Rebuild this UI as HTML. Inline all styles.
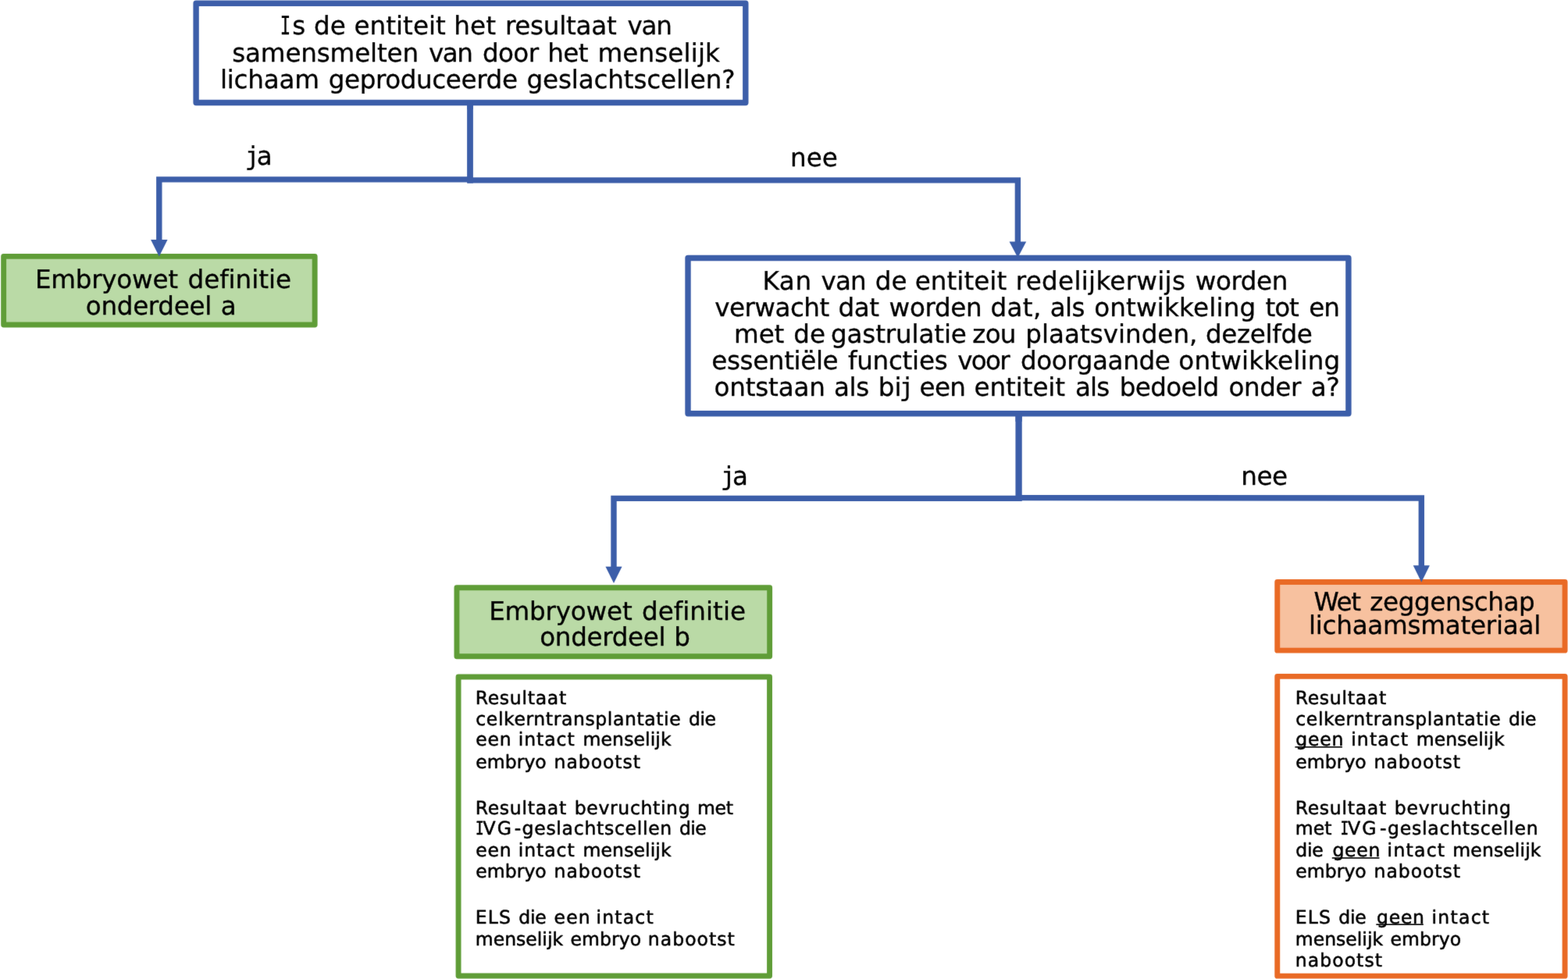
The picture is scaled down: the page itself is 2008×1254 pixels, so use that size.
<!DOCTYPE html>
<html lang="nl">
<head>
<meta charset="utf-8">
<title>Beslisboom Embryowet</title>
<style>
html, body { margin: 0; padding: 0; background: #fff; }
body { width: 2008px; height: 1254px; overflow: hidden; }
svg { display: block; will-change: transform; }
text { font-family: 'DejaVu Sans', 'Liberation Sans', sans-serif; fill: #000; stroke: #000; stroke-linejoin: round; white-space: pre; font-kerning: normal; }
.slab { font-family: 'DejaVu Sans Mono', 'Liberation Mono', monospace; }
.big { font-size: 32.6px; stroke-width: 0.32px; }
.small { font-size: 23.5px; stroke-width: 0.55px; }
</style>
</head>
<body>
<svg width="2008" height="1254" viewBox="0 0 2008 1254" text-rendering="geometricPrecision">
<defs><filter id="soft" x="-12" y="-12" width="2032" height="1278" filterUnits="userSpaceOnUse" color-interpolation-filters="sRGB"><feConvolveMatrix order="3" kernelMatrix="1 12 1 12 148 12 1 12 1" edgeMode="duplicate" preserveAlpha="true"/></filter></defs>
<rect width="2008" height="1254" fill="#fff"/>
<g filter="url(#soft)">
<rect x="-10" y="-10" width="2028" height="1274" fill="#fff"/>
<g id="shapes">
<path d="M602.00 131.00 L602.00 234.60" fill="none" stroke="#3c5ea9" stroke-width="7.8" stroke-linecap="butt" stroke-linejoin="miter"/>
<path d="M203.80 312.00 L203.80 229.90 L602.20 229.90" fill="none" stroke="#3c5ea9" stroke-width="7.4" stroke-linecap="butt" stroke-linejoin="miter"/>
<path d="M598.60 230.90 L1303.40 230.90 L1303.40 312.00" fill="none" stroke="#3c5ea9" stroke-width="7.4" stroke-linecap="butt" stroke-linejoin="miter"/>
<path d="M1304.60 529.00 L1304.60 642.10" fill="none" stroke="#3c5ea9" stroke-width="8.3" stroke-linecap="butt" stroke-linejoin="miter"/>
<path d="M786.00 730.00 L786.00 638.40 L1304.60 638.40" fill="none" stroke="#3c5ea9" stroke-width="7.4" stroke-linecap="butt" stroke-linejoin="miter"/>
<path d="M1301.00 637.60 L1820.30 638.00 L1820.30 730.00" fill="none" stroke="#3c5ea9" stroke-width="7.4" stroke-linecap="butt" stroke-linejoin="miter"/>
<rect x="251.10" y="4.20" width="703.70" height="127.30" fill="#fff" stroke="#3c5ea9" stroke-width="7.4" stroke-linejoin="round"/>
<rect x="4.65" y="328.35" width="398.50" height="87.60" fill="#badaa6" stroke="#5f9d37" stroke-width="6.9" stroke-linejoin="round"/>
<rect x="881.00" y="330.50" width="845.90" height="199.20" fill="#fff" stroke="#3c5ea9" stroke-width="7.4" stroke-linejoin="round"/>
<rect x="584.95" y="752.75" width="400.70" height="88.00" fill="#badaa6" stroke="#5f9d37" stroke-width="6.9" stroke-linejoin="round"/>
<rect x="1635.75" y="745.55" width="368.30" height="87.60" fill="#f7c19f" stroke="#e96a25" stroke-width="6.9" stroke-linejoin="round"/>
<rect x="587.05" y="867.05" width="398.50" height="382.90" fill="#fff" stroke="#5f9d37" stroke-width="6.9" stroke-linejoin="round"/>
<rect x="1635.75" y="866.35" width="368.30" height="383.80" fill="#fff" stroke="#e96a25" stroke-width="6.9" stroke-linejoin="round"/>
<path d="M602.00 131.00 L602.00 140.00" fill="none" stroke="#3c5ea9" stroke-width="7.8" stroke-linecap="butt" stroke-linejoin="miter"/>
<path d="M1304.60 529.00 L1304.60 540.00" fill="none" stroke="#3c5ea9" stroke-width="8.3" stroke-linecap="butt" stroke-linejoin="miter"/>
<path d="M193.05 307.00 L214.55 307.00 L203.80 328.50 Z" fill="#3c5ea9"/>
<path d="M1292.55 309.60 L1314.25 309.60 L1303.40 330.00 Z" fill="#3c5ea9"/>
<path d="M775.45 725.80 L796.55 725.80 L786.00 747.00 Z" fill="#3c5ea9"/>
<path d="M1809.70 724.30 L1830.90 724.30 L1820.30 745.80 Z" fill="#3c5ea9"/>
<rect x="1658.40" y="956.10" width="60.50" height="1.6" fill="#000"/>
<rect x="1705.80" y="1098.20" width="60.60" height="1.6" fill="#000"/>
<rect x="1762.30" y="1183.40" width="60.50" height="1.6" fill="#000"/>
</g>
<g id="labels">
<text class="big" y="44.00"><tspan class="slab" x="358.85" textLength="13.43" lengthAdjust="spacingAndGlyphs">I</tspan><tspan x="374.31">s</tspan> <tspan x="402.08" letter-spacing="0.055">de</tspan> <tspan x="453.49" letter-spacing="0.028">entiteit</tspan> <tspan x="581.31" letter-spacing="0.150">het</tspan> <tspan x="646.90" letter-spacing="-0.248">resultaat</tspan> <tspan x="803.45" letter-spacing="-1.158">van</tspan></text>
<text class="big" y="79.00"><tspan x="297.18" letter-spacing="-0.152">samensmelten</tspan> <tspan x="548.92" letter-spacing="-1.419">van</tspan> <tspan x="617.91" letter-spacing="-0.602">door</tspan> <tspan x="701.28" letter-spacing="-0.570">het</tspan> <tspan x="765.42" letter-spacing="0.140">menselijk</tspan></text>
<text class="big" y="113.00"><tspan x="281.93" letter-spacing="-0.213">lichaam</tspan> <tspan x="420.73" letter-spacing="-0.390">geproduceerde</tspan> <tspan x="674.56" letter-spacing="-0.142">geslachtscellen?</tspan></text>
<text class="big" y="211.00"><tspan class="slab" x="313.85" textLength="18.43" lengthAdjust="spacingAndGlyphs">j</tspan><tspan x="328.81">a</tspan></text>
<text class="big" y="369.00"><tspan x="44.88" letter-spacing="-0.238">Embryowet</tspan> <tspan x="240.61" letter-spacing="-0.059">definitie</tspan></text>
<text class="big" y="403.00"><tspan x="109.86" letter-spacing="-0.327">onderdeel</tspan> <tspan x="282.81">a</tspan></text>
<text class="big" y="213.00"><tspan x="1011.91" letter-spacing="0.137">nee</tspan></text>
<text class="big" y="371.00"><tspan x="976.40" letter-spacing="0.692">Kan</tspan> <tspan x="1051.58" letter-spacing="-0.896">van</tspan> <tspan x="1120.87" letter-spacing="-0.015">de</tspan> <tspan x="1171.69" letter-spacing="0.053">entiteit</tspan> <tspan x="1300.85" letter-spacing="0.277">redelijkerwijs</tspan> <tspan x="1530.69" letter-spacing="-0.425">worden</tspan></text>
<text class="big" y="405.00"><tspan x="915.20" letter-spacing="-0.517">verwacht</tspan> <tspan x="1073.39" letter-spacing="-0.348">dat</tspan> <tspan x="1138.62" letter-spacing="-0.335">worden</tspan> <tspan x="1268.54" letter-spacing="0.324">dat,</tspan> <tspan x="1344.68" letter-spacing="-0.573">als</tspan> <tspan x="1401.16" letter-spacing="0.171">ontwikkeling</tspan> <tspan x="1620.51" letter-spacing="-1.044">tot</tspan> <tspan x="1676.33" letter-spacing="-1.230">en</tspan></text>
<text class="big" y="439.00"><tspan x="940.03" letter-spacing="-0.099">met</tspan> <tspan x="1016.28" letter-spacing="-0.015">de</tspan> <tspan x="1063.97" letter-spacing="-0.145">gastrulatie</tspan> <tspan x="1245.30" letter-spacing="-0.745">zou</tspan> <tspan x="1313.27" letter-spacing="0.002">plaatsvinden,</tspan> <tspan x="1543.99" letter-spacing="-0.323">dezelfde</tspan></text>
<text class="big" y="473.00"><tspan x="911.28" letter-spacing="-0.362">essentiële</tspan> <tspan x="1085.94" letter-spacing="-0.257">functies</tspan> <tspan x="1226.23" letter-spacing="-1.687">voor</tspan> <tspan x="1306.94" letter-spacing="-0.389">doorgaande</tspan> <tspan x="1509.30" letter-spacing="0.171">ontwikkeling</tspan></text>
<text class="big" y="507.00"><tspan x="914.42" letter-spacing="-0.168">ontstaan</tspan> <tspan x="1067.99" letter-spacing="-0.334">als</tspan> <tspan x="1124.63" letter-spacing="0.207">bi</tspan><tspan class="slab" x="1151.85" textLength="18.43" lengthAdjust="spacingAndGlyphs">j</tspan> <tspan x="1177.55" letter-spacing="-0.704">een</tspan> <tspan x="1247.62" letter-spacing="-0.103">entiteit</tspan> <tspan x="1377.01" letter-spacing="-0.895">als</tspan> <tspan x="1433.83" letter-spacing="-0.643">bedoeld</tspan> <tspan x="1573.54" letter-spacing="-0.482">onder</tspan> <tspan x="1678.74" letter-spacing="-0.258">a?</tspan></text>
<text class="big" y="621.00"><tspan class="slab" x="922.86" textLength="19.05" lengthAdjust="spacingAndGlyphs">j</tspan><tspan x="937.91">a</tspan></text>
<text class="big" y="794.00"><tspan x="626.16" letter-spacing="-0.196">Embryowet</tspan> <tspan x="822.08" letter-spacing="0.012">definitie</tspan></text>
<text class="big" y="827.00"><tspan x="691.20" letter-spacing="-0.314">onderdeel</tspan> <tspan x="863.33">b</tspan></text>
<text class="big" y="621.00"><tspan x="1589.31" letter-spacing="-0.494">nee</tspan></text>
<text class="big" y="782.00"><tspan x="1682.41" letter-spacing="-1.301">Wet</tspan> <tspan x="1754.32" letter-spacing="-0.392">zeggenschap</tspan></text>
<text class="big" y="812.00"><tspan x="1675.99" letter-spacing="-0.249">lichaamsmateriaal</tspan></text>
<text class="small" y="902.00"><tspan x="608.68" letter-spacing="0.731">Resultaat</tspan></text>
<text class="small" y="929.00"><tspan x="609.33" letter-spacing="0.607">celkerntransplantatie</tspan> <tspan x="882.12" letter-spacing="-0.492">die</tspan></text>
<text class="small" y="955.00"><tspan x="609.33" letter-spacing="0.726">een</tspan> <tspan x="663.85" letter-spacing="0.916">intact</tspan> <tspan x="746.54" letter-spacing="0.117">menselijk</tspan></text>
<text class="small" y="984.00"><tspan x="609.33" letter-spacing="0.032">embryo</tspan> <tspan x="709.59" letter-spacing="0.963">nabootst</tspan></text>
<text class="small" y="1043.00"><tspan x="608.68" letter-spacing="0.731">Resultaat</tspan> <tspan x="735.74" letter-spacing="0.664">bevruchting</tspan> <tspan x="892.96" letter-spacing="-0.251">met</tspan></text>
<text class="small" y="1069.00"><tspan class="slab" x="608.90" textLength="10.64" lengthAdjust="spacingAndGlyphs">I</tspan><tspan x="618.52" letter-spacing="2.236">VG</tspan><tspan x="658.75">-</tspan><tspan x="668.60" letter-spacing="0.719">geslachtscellen</tspan> <tspan x="869.92" letter-spacing="-0.492">die</tspan></text>
<text class="small" y="1097.00"><tspan x="609.33" letter-spacing="0.726">een</tspan> <tspan x="663.85" letter-spacing="0.916">intact</tspan> <tspan x="746.54" letter-spacing="0.117">menselijk</tspan></text>
<text class="small" y="1124.00"><tspan x="609.33" letter-spacing="0.032">embryo</tspan> <tspan x="709.59" letter-spacing="0.963">nabootst</tspan></text>
<text class="small" y="1183.00"><tspan x="608.85" letter-spacing="1.099">ELS</tspan> <tspan x="664.24" letter-spacing="-0.231">die</tspan> <tspan x="709.56" letter-spacing="1.162">een</tspan> <tspan x="763.55" letter-spacing="1.194">intact</tspan></text>
<text class="small" y="1211.00"><tspan x="608.84" letter-spacing="0.008">menselijk</tspan> <tspan x="730.48" letter-spacing="0.102">embryo</tspan> <tspan x="829.86" letter-spacing="1.038">nabootst</tspan></text>
<text class="small" y="902.00"><tspan x="1658.68" letter-spacing="0.731">Resultaat</tspan></text>
<text class="small" y="929.00"><tspan x="1659.33" letter-spacing="0.607">celkerntransplantatie</tspan> <tspan x="1932.12" letter-spacing="-0.231">die</tspan></text>
<text class="small" y="955.00"><tspan x="1659.33" letter-spacing="0.739">geen</tspan> <tspan x="1730.23" letter-spacing="1.125">intact</tspan> <tspan x="1813.63" letter-spacing="0.117">menselijk</tspan></text>
<text class="small" y="984.00"><tspan x="1659.33" letter-spacing="0.032">embryo</tspan> <tspan x="1759.59" letter-spacing="0.963">nabootst</tspan></text>
<text class="small" y="1043.00"><tspan x="1658.68" letter-spacing="0.731">Resultaat</tspan> <tspan x="1785.74" letter-spacing="0.786">bevruchting</tspan></text>
<text class="small" y="1069.00"><tspan x="1658.84" letter-spacing="0.011">met</tspan> <tspan class="slab" x="1716.42" textLength="10.64" lengthAdjust="spacingAndGlyphs">I</tspan><tspan x="1726.04" letter-spacing="2.062">VG</tspan><tspan x="1766.96">-</tspan><tspan x="1776.99" letter-spacing="0.781">geslachtscellen</tspan></text>
<text class="small" y="1097.00"><tspan x="1659.34" letter-spacing="-0.318">die</tspan> <tspan x="1706.40" letter-spacing="0.739">geen</tspan> <tspan x="1776.60" letter-spacing="1.264">intact</tspan> <tspan x="1860.34" letter-spacing="0.117">menselijk</tspan></text>
<text class="small" y="1124.00"><tspan x="1659.33" letter-spacing="0.032">embryo</tspan> <tspan x="1759.59" letter-spacing="0.963">nabootst</tspan></text>
<text class="small" y="1183.00"><tspan x="1658.85" letter-spacing="1.099">ELS</tspan> <tspan x="1714.24" letter-spacing="-0.231">die</tspan> <tspan x="1763.04" letter-spacing="0.739">geen</tspan> <tspan x="1833.59" letter-spacing="1.264">intact</tspan></text>
<text class="small" y="1211.00"><tspan x="1658.84" letter-spacing="0.008">menselijk</tspan> <tspan x="1780.48" letter-spacing="0.102">embryo</tspan></text>
<text class="small" y="1238.00"><tspan x="1658.84" letter-spacing="1.062">nabootst</tspan></text>
</g>
</g>
</svg>
</body>
</html>
